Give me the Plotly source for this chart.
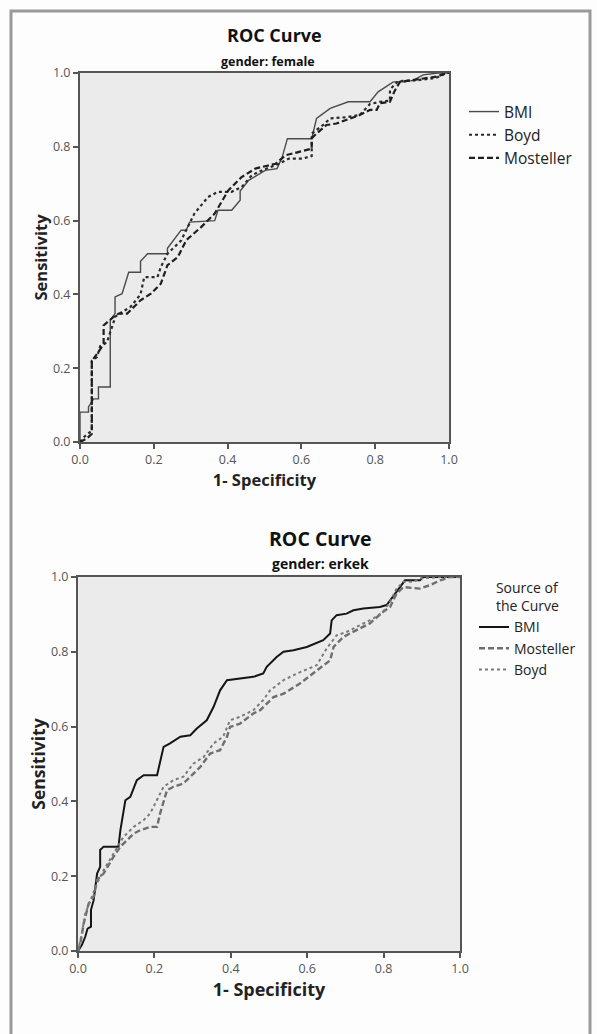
import plotly.graph_objects as go

# ---------- Data: female ----------
f_bmi_x = [0, 0, 0.023, 0.023, 0.037, 0.05, 0.05, 0.082, 0.082, 0.095, 0.095, 0.114, 0.132, 0.164, 0.164, 0.183, 0.237, 0.237, 0.274, 0.288, 0.297, 0.365, 0.374, 0.411, 0.434, 0.434, 0.457, 0.502, 0.534, 0.548, 0.562, 0.628, 0.641, 0.678, 0.727, 0.786, 0.808, 0.849, 0.88, 0.903, 0.93, 0.97, 1.0]
f_bmi_y = [0, 0.081, 0.081, 0.095, 0.117, 0.117, 0.149, 0.149, 0.33, 0.348, 0.393, 0.402, 0.46, 0.46, 0.49, 0.51, 0.51, 0.525, 0.574, 0.574, 0.596, 0.6, 0.628, 0.628, 0.655, 0.68, 0.709, 0.736, 0.741, 0.772, 0.822, 0.822, 0.877, 0.904, 0.922, 0.922, 0.949, 0.976, 0.976, 0.98, 0.995, 1.0, 1.0]

f_boyd_x = [0, 0.01, 0.032, 0.032, 0.046, 0.055, 0.073, 0.082, 0.096, 0.11, 0.137, 0.164, 0.174, 0.21, 0.219, 0.237, 0.274, 0.31, 0.347, 0.374, 0.411, 0.438, 0.466, 0.493, 0.539, 0.566, 0.603, 0.628, 0.628, 0.66, 0.678, 0.72, 0.758, 0.786, 0.813, 0.84, 0.84, 0.862, 0.91, 0.966, 0.993, 1.0]
f_boyd_y = [0, 0.013, 0.031, 0.22, 0.23, 0.26, 0.27, 0.3, 0.34, 0.35, 0.366, 0.4, 0.447, 0.447, 0.474, 0.51, 0.546, 0.619, 0.664, 0.678, 0.678, 0.691, 0.723, 0.736, 0.754, 0.768, 0.768, 0.775, 0.836, 0.86, 0.877, 0.88, 0.886, 0.916, 0.922, 0.925, 0.955, 0.978, 0.98, 0.987, 1.0, 1.0]

f_most_x = [0, 0.018, 0.032, 0.032, 0.05, 0.064, 0.064, 0.091, 0.105, 0.128, 0.146, 0.164, 0.192, 0.219, 0.237, 0.265, 0.288, 0.329, 0.365, 0.402, 0.42, 0.438, 0.475, 0.53, 0.557, 0.596, 0.628, 0.628, 0.641, 0.668, 0.695, 0.758, 0.786, 0.804, 0.813, 0.84, 0.852, 0.867, 0.898, 0.939, 0.966, 0.993, 1.0]
f_most_y = [0, 0.009, 0.022, 0.22, 0.244, 0.266, 0.316, 0.339, 0.348, 0.348, 0.366, 0.384, 0.402, 0.429, 0.479, 0.501, 0.547, 0.583, 0.619, 0.682, 0.7, 0.718, 0.741, 0.754, 0.777, 0.787, 0.795, 0.823, 0.836, 0.859, 0.863, 0.886, 0.9, 0.9, 0.918, 0.922, 0.95, 0.976, 0.98, 0.985, 0.99, 1.0, 1.0]

# ---------- Data: erkek ----------
m_bmi_x = [0, 0.01, 0.019, 0.025, 0.034, 0.034, 0.041, 0.045, 0.05, 0.058, 0.058, 0.067, 0.106, 0.111, 0.124, 0.137, 0.154, 0.172, 0.207, 0.224, 0.241, 0.268, 0.294, 0.311, 0.337, 0.355, 0.372, 0.39, 0.424, 0.459, 0.485, 0.494, 0.52, 0.538, 0.564, 0.599, 0.642, 0.66, 0.664, 0.677, 0.703, 0.721, 0.747, 0.79, 0.808, 0.817, 0.843, 0.856, 0.895, 0.904, 1.0]
m_bmi_y = [0, 0.016, 0.038, 0.06, 0.065, 0.11, 0.136, 0.163, 0.207, 0.225, 0.27, 0.279, 0.279, 0.323, 0.403, 0.412, 0.457, 0.47, 0.47, 0.546, 0.555, 0.573, 0.577, 0.595, 0.617, 0.653, 0.697, 0.724, 0.728, 0.733, 0.742, 0.76, 0.786, 0.8, 0.804, 0.813, 0.831, 0.849, 0.884, 0.898, 0.902, 0.911, 0.916, 0.92, 0.925, 0.938, 0.973, 0.991, 0.991, 1.0, 1.0]

m_most_x = [0, 0.006, 0.015, 0.028, 0.041, 0.05, 0.067, 0.093, 0.111, 0.128, 0.146, 0.163, 0.189, 0.207, 0.215, 0.233, 0.25, 0.276, 0.302, 0.32, 0.346, 0.372, 0.39, 0.398, 0.424, 0.459, 0.477, 0.494, 0.512, 0.538, 0.581, 0.625, 0.66, 0.669, 0.695, 0.729, 0.764, 0.799, 0.817, 0.834, 0.852, 0.895, 0.921, 0.948, 0.974, 1.0]
m_most_y = [0, 0.02, 0.074, 0.127, 0.145, 0.19, 0.207, 0.252, 0.279, 0.297, 0.314, 0.323, 0.332, 0.332, 0.368, 0.43, 0.439, 0.448, 0.475, 0.492, 0.528, 0.537, 0.573, 0.599, 0.608, 0.635, 0.644, 0.662, 0.679, 0.688, 0.715, 0.75, 0.777, 0.813, 0.84, 0.858, 0.876, 0.907, 0.92, 0.956, 0.973, 0.969, 0.978, 0.991, 1.0, 1.0]

m_boyd_x = [0, 0.01, 0.019, 0.032, 0.05, 0.067, 0.093, 0.119, 0.146, 0.172, 0.189, 0.207, 0.224, 0.25, 0.276, 0.302, 0.329, 0.355, 0.38, 0.398, 0.424, 0.459, 0.485, 0.503, 0.538, 0.573, 0.625, 0.651, 0.677, 0.703, 0.738, 0.773, 0.799, 0.817, 0.834, 0.852, 0.878, 0.895, 0.95, 1.0]
m_boyd_y = [0, 0.047, 0.1, 0.136, 0.181, 0.216, 0.261, 0.305, 0.332, 0.35, 0.368, 0.403, 0.439, 0.457, 0.466, 0.501, 0.519, 0.555, 0.573, 0.617, 0.626, 0.644, 0.671, 0.697, 0.724, 0.742, 0.764, 0.809, 0.844, 0.853, 0.871, 0.889, 0.907, 0.934, 0.969, 0.987, 0.987, 0.996, 1.0, 1.0]

tick_vals = [0, 0.2, 0.4, 0.6, 0.8, 1.0]
tick_text = ["0.0", "0.2", "0.4", "0.6", "0.8", "1.0"]

FONT = "Open Sans"
W, H = 597, 1034

fig = go.Figure()

# top (female)
fig.add_trace(go.Scatter(x=f_bmi_x, y=f_bmi_y, mode="lines", name="BMI",
                         line=dict(color="#4a4a4a", width=1.4), xaxis="x", yaxis="y", legend="legend"))
fig.add_trace(go.Scatter(x=f_boyd_x, y=f_boyd_y, mode="lines", name="Boyd",
                         line=dict(color="#2a2a2a", width=2.2, dash="dot"), xaxis="x", yaxis="y", legend="legend"))
fig.add_trace(go.Scatter(x=f_most_x, y=f_most_y, mode="lines", name="Mosteller",
                         line=dict(color="#1e1e1e", width=2.2, dash="6px,3px"), xaxis="x", yaxis="y", legend="legend"))

# bottom (erkek)
fig.add_trace(go.Scatter(x=m_bmi_x, y=m_bmi_y, mode="lines", name="BMI",
                         line=dict(color="#151515", width=2.0), xaxis="x2", yaxis="y2", legend="legend2"))
fig.add_trace(go.Scatter(x=m_most_x, y=m_most_y, mode="lines", name="Mosteller",
                         line=dict(color="#6e6e6e", width=2.4, dash="6px,3px"), xaxis="x2", yaxis="y2", legend="legend2"))
fig.add_trace(go.Scatter(x=m_boyd_x, y=m_boyd_y, mode="lines", name="Boyd",
                         line=dict(color="#7a7a7a", width=2.0, dash="dot"), xaxis="x2", yaxis="y2", legend="legend2"))

def px_x(v):
    return v / W

def px_y(v):
    return 1 - v / H

axis_common = dict(range=[0, 1], tickvals=tick_vals, ticktext=tick_text, showgrid=False, zeroline=False,
                   showline=True, linecolor="#555555", linewidth=2, mirror=True, automargin=False,
                   ticks="outside", ticklen=5, tickwidth=1.5, tickcolor="#555555",
                   tickfont=dict(family=FONT, size=12.5, color="#555555"))

fig.update_layout(
    width=W, height=H,
    margin=dict(l=0, r=0, t=0, b=0, autoexpand=False),
    paper_bgcolor="#fdfdfd",
    plot_bgcolor="#ebebeb",
    xaxis=dict(domain=[px_x(80), px_x(449)], anchor="y",
               title=dict(text="<b>1- Specificity</b>", font=dict(family=FONT, size=16.5, color="#222"), standoff=5),
               **axis_common),
    yaxis=dict(domain=[px_y(442), px_y(73)], anchor="x",
               title=dict(text="<b>Sensitivity</b>", font=dict(family=FONT, size=16.5, color="#222"), standoff=1),
               **axis_common),
    xaxis2=dict(domain=[px_x(78), px_x(460)], anchor="y2",
                title=dict(text="<b>1- Specificity</b>", font=dict(family=FONT, size=18, color="#222"), standoff=6),
                **axis_common),
    yaxis2=dict(domain=[px_y(951), px_y(577)], anchor="x2",
                title=dict(text="<b>Sensitivity</b>", font=dict(family=FONT, size=17.5, color="#222"), standoff=1),
                **axis_common),
    legend=dict(x=px_x(464), y=px_y(95), xanchor="left", yanchor="top",
                bgcolor="rgba(0,0,0,0)", font=dict(family=FONT, size=15.5, color="#222"),
                tracegroupgap=0, itemwidth=30),
    legend2=dict(x=px_x(474), y=px_y(575), xanchor="left", yanchor="top",
                 bgcolor="rgba(0,0,0,0)", font=dict(family=FONT, size=14, color="#222"),
                 title=dict(text="Source of<br>the Curve", font=dict(family=FONT, size=14, color="#222"), side="top center"),
                 tracegroupgap=0, itemwidth=30),
    showlegend=True,
    shapes=[dict(type="rect", xref="paper", yref="paper", x0=px_x(11), x1=px_x(590), y0=-0.05, y1=px_y(11),
                 line=dict(color="#9a9a9a", width=3), fillcolor="rgba(0,0,0,0)", layer="below")],
    annotations=[
        dict(text="<b>ROC Curve</b>", x=px_x(274), y=px_y(35), xref="paper", yref="paper", showarrow=False,
             yanchor="middle", font=dict(family=FONT, size=18, color="#111")),
        dict(text="<b>gender: female</b>", x=px_x(268), y=px_y(61), xref="paper", yref="paper", showarrow=False,
             yanchor="middle", font=dict(family=FONT, size=12.5, color="#111")),
        dict(text="<b>ROC Curve</b>", x=px_x(320), y=px_y(538), xref="paper", yref="paper", showarrow=False,
             yanchor="middle", font=dict(family=FONT, size=19.5, color="#111")),
        dict(text="<b>gender: erkek</b>", x=px_x(320), y=px_y(563), xref="paper", yref="paper", showarrow=False,
             yanchor="middle", font=dict(family=FONT, size=14, color="#111")),
    ],
)

fig.write_html("out.html", config={"displayModeBar": False},
               post_script="document.body.style.margin='0';")
